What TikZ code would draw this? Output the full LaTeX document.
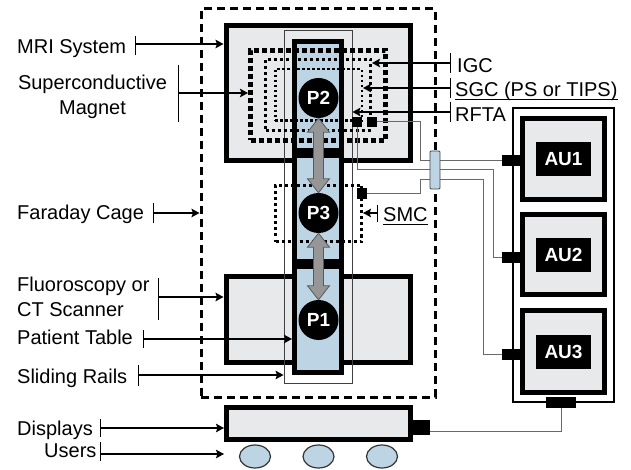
\documentclass[tikz,border=0pt]{standalone}
\usepackage{fontspec}
\setmainfont{Liberation Sans}
\usetikzlibrary{arrows.meta,calc,shapes.geometric}

\definecolor{boxgray}{RGB}{232,233,235}
\definecolor{tableblue}{RGB}{188,212,227}
\definecolor{wiregray}{RGB}{105,105,105}
\definecolor{arrowgray}{RGB}{150,150,150}

\begin{document}
\begin{tikzpicture}[x=1pt, y=-1pt,
  every node/.style={font=\fontsize{20}{24.5}\selectfont},
  heavybox/.style={draw=black, line width=5pt, fill=boxgray, inner sep=0pt},
  tablebox/.style={draw=black, line width=5pt, fill=tableblue, inner sep=0pt, minimum width=47pt},
  dotbox/.style={draw=black, inner sep=0pt},
  plug/.style={fill=black, inner sep=0pt},
  stage/.style={circle, fill=black, text=white, inner sep=0pt, minimum size=40pt, font=\fontsize{19}{19}\selectfont\bfseries},
  aulabel/.style={fill=black, text=white, inner sep=0pt, minimum width=55pt, minimum height=34pt, font=\fontsize{19}{19}\selectfont\bfseries},
  lbl/.style={inner sep=0pt, anchor=base west},
  tickbar/.style={line width=1pt},
  pointer/.style={line width=2pt, -{Stealth[length=8pt,width=8.5pt,inset=1.5pt]}},
  wire/.style={draw=wiregray, line width=1pt},
  fatarrow/.style={fill=arrowgray, draw=black!65, line width=0.8pt}
]
\useasboundingbox (0,0) rectangle (631,470);

% Faraday cage
\node[draw, line width=3pt, dash pattern=on 8pt off 5pt, inner sep=0pt, minimum width=234pt, minimum height=388pt] (cage) at (318,203) {};

% MRI system and fluoroscopy / CT scanner
\node[heavybox, minimum width=184pt, minimum height=135pt] (mri) at (318,93) {};
\node[heavybox, minimum width=184pt, minimum height=86pt] (ct) at (318,319.5) {};

% sliding rails and patient table
\node[draw=black!75, line width=0.9pt, inner sep=0pt, minimum width=68pt, minimum height=353pt] (rails) at (318,206.5) {};
\node[tablebox, minimum height=109pt] (tab1) at (318,96) {};
\node[tablebox, minimum height=105.5pt] (tab2) at (318,208.25) {};
\node[tablebox, minimum height=106pt] (tab3) at (318,319.5) {};

% magnet, gradient coils and SMC
\node[dotbox, line width=5pt, dash pattern=on 5pt off 3pt, minimum width=135pt, minimum height=90pt] (mag) at (318,95.5) {};
\node[dotbox, line width=3pt, dash pattern=on 3pt off 3pt, minimum width=105pt, minimum height=71pt] (igc) at (318,95) {};
\node[dotbox, line width=2.5pt, dash pattern=on 2.5pt off 2.5pt, minimum width=86.5pt, minimum height=51.5pt] (sgc) at (318.5,95) {};
\node[dotbox, line width=3pt, dash pattern=on 3pt off 3pt, minimum width=86pt, minimum height=56pt] (smc) at (318.5,213.5) {};

% plugs
\node[plug, minimum width=10pt, minimum height=10pt] (rfa) at (357,122) {};
\node[plug, minimum width=10pt, minimum height=10pt] (rfb) at (372,122) {};
\node[plug, minimum width=10pt, minimum height=11pt] (smcp) at (362,193.5) {};

% table positions
\node[stage] (p2) at (318.5,98) {P2};
\node[stage] (p3) at (318.5,213) {P3};
\node[stage] (p1) at (318.5,320) {P1};

% moves between positions
\foreach \a/\b in {p2/p3, p3/p1}
  \filldraw[fatarrow] (\a.south) -- ++(11,14) -- ++(-6,0) -- ($(\b.north)+(5,-14)$) -- ++(6,0)
    -- (\b.north) -- ++(-11,-14) -- ++(6,0) -- ($(\a.south)+(-5,14)$) -- ++(-6,0) -- cycle;

% AU rack
\node[draw, line width=1.8pt, inner sep=0pt, minimum width=101pt, minimum height=294pt] (rack) at (563.5,255) {};
\node[heavybox, minimum width=82pt, minimum height=81pt] (au1) at (563.5,159) {};
\node[heavybox, minimum width=82pt, minimum height=80pt] (au2) at (563.5,254.5) {};
\node[heavybox, minimum width=82pt, minimum height=82pt] (au3) at (563.5,351.5) {};
\node[aulabel] (au1l) at (au1) {AU1};
\node[aulabel] (au2l) at (au2) {AU2};
\node[aulabel] (au3l) at (au3) {AU3};
\node[plug, minimum width=18pt, minimum height=11pt] (au1p) at (511,160.5) {};
\node[plug, minimum width=18pt, minimum height=11pt] (au2p) at (511,257) {};
\node[plug, minimum width=18pt, minimum height=11pt] (au3p) at (511,354) {};
\node[plug, minimum width=30pt, minimum height=11pt] (rackp) at (561,402.5) {};

% displays and users
\node[heavybox, minimum width=183.5pt, minimum height=32pt] (disp) at (318.25,423.5) {};
\node[plug, minimum width=18pt, minimum height=15pt] (dispp) at (421,427.5) {};
\foreach \x/\n in {255/1, 318.5/2, 382/3}
  \node[ellipse, draw=black!80, line width=1.2pt, fill=tableblue, inner sep=0pt, minimum width=31pt, minimum height=23pt] (user\n) at (\x,456.5) {};

% cables
\draw[wire] (rfb.east) -- (420,122) |- (au1p.west);
\draw[wire] (rfa.south) |- (493,170) |- (au2p.west);
\draw[wire] (smcp.east) -- (420,193.5) |- (483,180) |- (au3p.west);
\draw[wire] (rackp.south) |- ([yshift=-3.5pt]dispp.east);
\node[draw=black!75, line width=0.9pt, fill=tableblue, rounded corners=1pt, inner sep=0pt, minimum width=10pt, minimum height=38pt] (feed) at (435,170) {};

% labels
\node[lbl] (mrit) at (17,54) {MRI System};
\node[align=center, inner sep=0pt, anchor=north] (supt) at (92.5,75) {Superconductive\\Magnet};
\node[lbl] (caget) at (17,220) {Faraday Cage};
\node[align=left, inner sep=0pt, anchor=north west] (ctt) at (17,277) {Fluoroscopy or\\CT Scanner};
\node[lbl] (tabt) at (17,344.5) {Patient Table};
\node[lbl] (railt) at (17,383) {Sliding Rails};
\node[lbl] (dispt) at (17,435) {Displays};
\node[lbl] (usert) at (44,457) {Users};
\node[lbl] (igct) at (457,73) {IGC};
\node[lbl] (sgct) at (455,97) {SGC (PS or TIPS)};
\node[lbl] (rftat) at (455,122) {RFTA};
\node[lbl] (smct) at (383,222) {SMC};
\draw[line width=1.3pt] ([yshift=-2.8pt]sgct.base west) -- ([yshift=-2.8pt]sgct.base east);
\draw[line width=1.3pt] ([yshift=-2.8pt]smct.base west) -- ([yshift=-2.8pt]smct.base east);

% label pointers
\foreach \nm/\bx/\ay/\ya/\yb/\tg/\sd in {
    mrib/135/44/36/55/mri/west, supb/178/93/65/122/mag/west,
    cageb/153/213/203/223/cage/west, ctb/158/297/278/320/ct/west,
    tabb/143/339/330/348/tab3/west, railb/138/375/365/386/rails/west,
    dispb/100/428/419/437/disp/west, userb/100/454/442/461/disp/west,
    igcb/450/63/53/73/igc/east, sgcb/450/88/78/98/sgc/east,
    rftab/450/112/102/122/rails/east, smcb/377/213/205/222/smc/east} {
  \coordinate (\nm) at (\bx,\ay);
  \draw[tickbar] (\bx,\ya) -- (\bx,\yb);
  \draw[pointer] (\nm) -- (\nm -| \tg.\sd);
}
\end{tikzpicture}
\end{document}
